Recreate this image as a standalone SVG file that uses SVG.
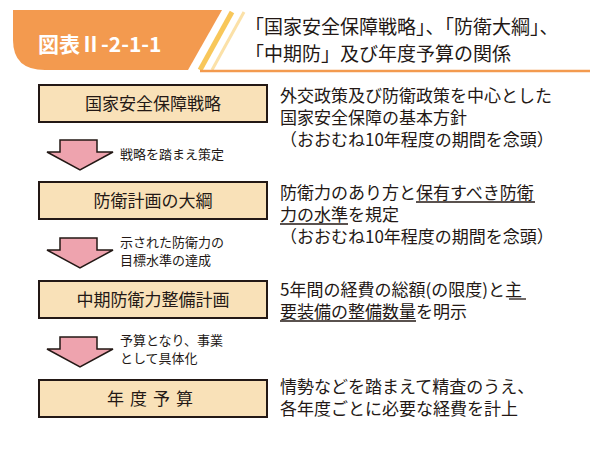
<svg xmlns="http://www.w3.org/2000/svg" width="605" height="457" viewBox="0 0 605 457">
<style>
text{font-family:"Noto Sans CJK JP","Noto Sans",sans-serif;fill:#231815}
.box{fill:#f9e1b8;stroke:#231815;stroke-width:2}
.bt{font-size:17px;text-anchor:middle}
.d{font-size:17px}
.s{font-size:13px}
.ar{fill:#eea3ae;stroke:#231815;stroke-width:1.5}
.u{stroke:#231815;stroke-width:1.3}
</style>
<rect width="605" height="457" fill="#fff"/>
<g id="header">
<path d="M13,10 H222 L188,70 H45 Q13,70 13,40 Z" fill="#f39a4f"/>
<path d="M200,70 L232,12" stroke="#f8c75a" stroke-width="5"/>
<path d="M212,70 L244,12" stroke="#fbe1a8" stroke-width="3"/>
<line x1="200" y1="71" x2="590" y2="71" stroke="#f39a4f" stroke-width="2.5"/>
<text x="38" y="52" font-size="21" font-weight="bold" style="fill:#fff">図表Ⅱ-2-1-1</text>
<text x="245" y="34" font-size="19">「国家安全保障戦略」、「防衛大綱」、</text>
<text x="245" y="61" font-size="19">「中期防」及び年度予算の関係</text>
</g>
<g id="n1"><rect class="box" x="39" y="85" width="228" height="37"/><text class="bt" x="153" y="110">国家安全保障戦略</text></g>
<g id="n2"><rect class="box" x="39" y="182" width="228" height="37"/><text class="bt" x="153" y="207">防衛計画の大綱</text></g>
<g id="n3"><rect class="box" x="39" y="281" width="228" height="37"/><text class="bt" x="153" y="306">中期防衛力整備計画</text></g>
<g id="n4"><rect class="box" x="39" y="380" width="228" height="37"/><text class="bt" x="153" y="405" letter-spacing="6">年度予算</text></g>
<g id="connectors">
<path class="ar" d="M60,140 H97 V152 H113 L80,170 L47,152 H60 Z"/>
<path class="ar" d="M60,238 H97 V250 H113 L80,268 L47,250 H60 Z"/>
<path class="ar" d="M60,337 H97 V349 H113 L80,367 L47,349 H60 Z"/>
</g>
<g id="labels">
<text class="s" x="120" y="159">戦略を踏まえ策定</text>
<text class="s" x="120" y="247">示された防衛力の</text>
<text class="s" x="120" y="265">目標水準の達成</text>
<text class="s" x="120" y="345">予算となり、事業</text>
<text class="s" x="120" y="363">として具体化</text>
<text class="d" x="280" y="102">外交政策及び防衛政策を中心とした</text>
<text class="d" x="280" y="124">国家安全保障の基本方針</text>
<text class="d" x="280" y="146">（おおむね10年程度の期間を念頭）</text>
<text class="d" x="280" y="199">防衛力のあり方と保有すべき防衛</text>
<text class="d" x="280" y="221">力の水準を規定</text>
<text class="d" x="280" y="243">（おおむね10年程度の期間を念頭）</text>
<text class="d" x="280" y="296">5年間の経費の総額(の限度)と主</text>
<text class="d" x="280" y="318">要装備の整備数量を明示</text>
<text class="d" x="280" y="393">情勢などを踏まえて精査のうえ、</text>
<text class="d" x="280" y="415">各年度ごとに必要な経費を計上</text>
<line class="u" x1="416" y1="202" x2="535" y2="202"/>
<line class="u" x1="280" y1="224" x2="348" y2="224"/>
<line class="u" x1="509" y1="299" x2="526" y2="299"/>
<line class="u" x1="280" y1="321" x2="416" y2="321"/>
</g>
</svg>
